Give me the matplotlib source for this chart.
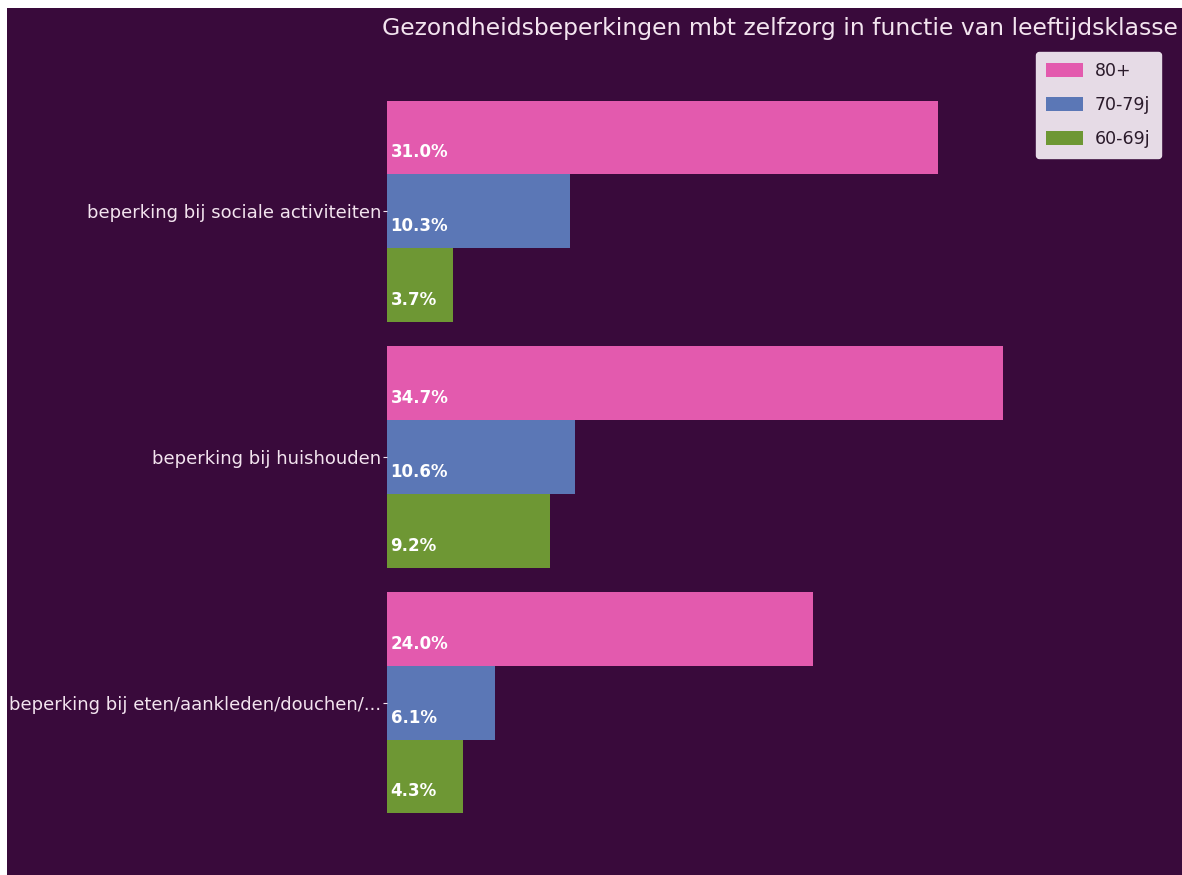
import matplotlib.pyplot as plt
import matplotlib.patches as patches
import numpy as np

categories = ["beperking bij sociale activiteiten",
              "beperking bij huishouden",
              "beperking bij eten/aankleden/douchen/..."]
groups = ["80+", "70-79j", "60-69j"]
values_80 = [31.0, 34.7, 24.0]
values_70 = [10.3, 10.6, 6.1]
values_60 = [3.7, 9.2, 4.3]
title = "Gezondheidsbeperkingen mbt zelfzorg in functie van leeftijdsklasse"

bg = "#390a3b"
txt = "#f3e4ef"
colors = ["#e35aae", "#5b77b6", "#6e9734"]

fig = plt.figure(figsize=(11.82, 8.75), dpi=100)
fig.patch.set_facecolor("white")
# dark panel (the page around it is white)
fig.patches.append(patches.Rectangle((7 / 1182, 0), 1 - 7 / 1182, 1 - 8 / 875,
                                     transform=fig.transFigure, facecolor=bg,
                                     edgecolor="none", zorder=-10))

ax = fig.add_axes([387 / 1182, 5 / 875, 785 / 1182, 810 / 875])
ax.set_facecolor("none")

y = np.arange(len(categories))
h = 0.3
series = [values_80, values_70, values_60]
for k, (vals, col, name) in enumerate(zip(series, colors, groups)):
    pos = y + (k - 1) * h
    ax.barh(pos, vals, height=h, color=col, label=name)
    for p, v in zip(pos, vals):
        ax.text(0.2, p + 0.06, f"{v:.1f}%", color="white", fontsize=12,
                fontweight="bold", va="center", ha="left")

ax.set_xlim(0, 44.2)
ax.set_ylim(2.68, -0.615)
ax.set_yticks(y)
ax.set_yticklabels(categories, fontsize=13, color=txt)
ax.tick_params(axis="y", length=3, color=txt, pad=1)
ax.set_xticks([])
for s in ax.spines.values():
    s.set_visible(False)

fig.text(780 / 1182, 1 - 28 / 875, title, fontsize=16.9, color=txt,
         ha="center", va="center")

leg = fig.legend(loc="upper right", bbox_to_anchor=(1161 / 1182, 1 - 52 / 875),
                 fontsize=12.5, frameon=True, handlelength=2.1, handleheight=0.85,
                 borderpad=0.6, labelspacing=0.9, handletextpad=0.7,
                 borderaxespad=0, fancybox=True)
leg.get_frame().set_facecolor("#e6dbe6")
leg.get_frame().set_edgecolor("#e6dbe6")
leg.get_frame().set_alpha(1)
for t in leg.get_texts():
    t.set_color("#2a1a2a")

fig.savefig("out.png", dpi=100, facecolor=fig.get_facecolor())
